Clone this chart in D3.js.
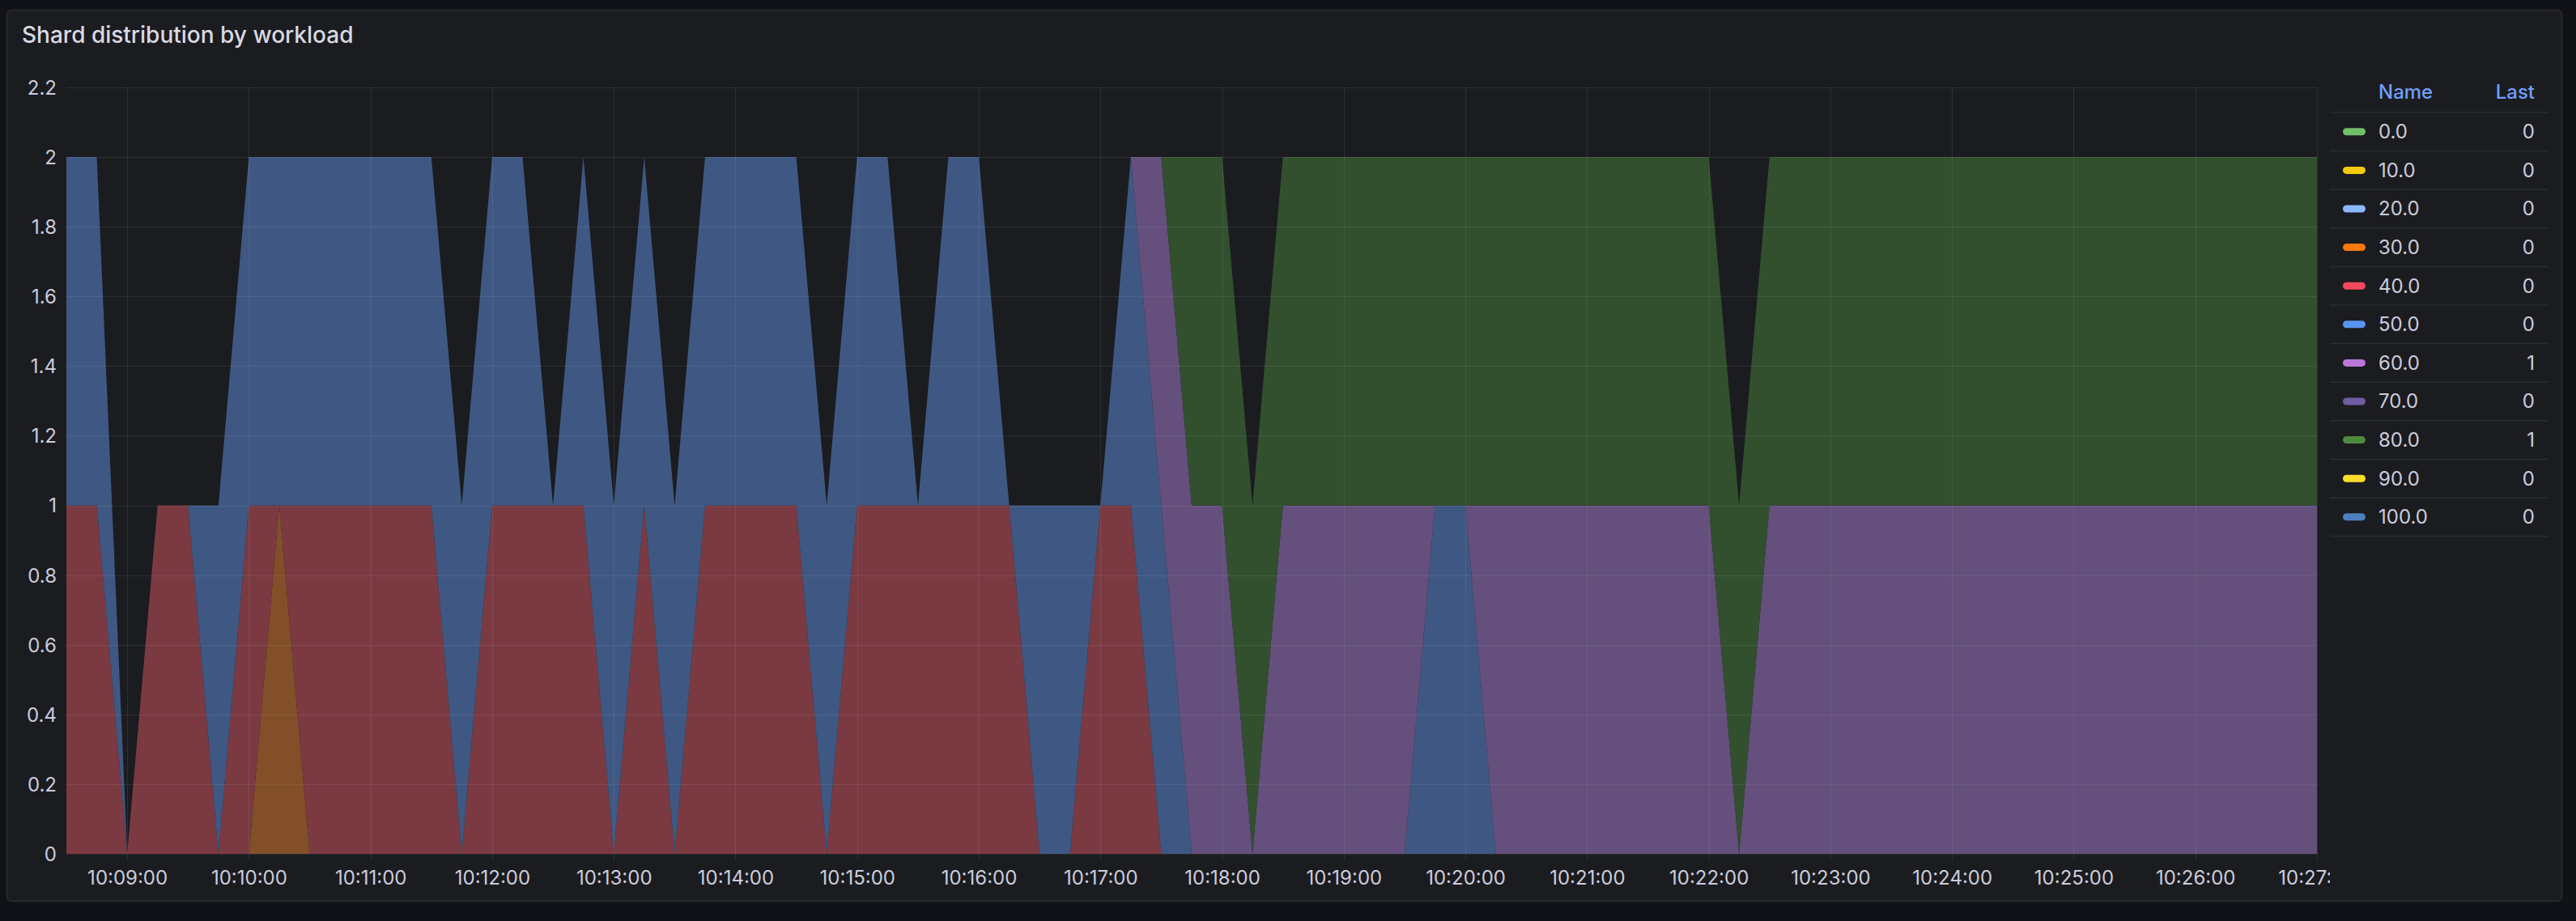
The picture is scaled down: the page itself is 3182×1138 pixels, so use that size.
<!DOCTYPE html>
<html>
<head>
<meta charset="utf-8">
<script src="https://cdn.jsdelivr.net/npm/d3@7"></script>
<style>
  html, body { margin: 0; padding: 0; background: #111217; }
  svg { display: block; font-family: Inter, "Noto Sans", sans-serif; }
</style>
</head>
<body>
<svg id="chart" width="3182" height="1138"></svg>
<script>
// ---------- DATA ----------
const times = [
  "10:08:30","10:08:45","10:09:00","10:09:15","10:09:30","10:09:45",
  "10:10:00","10:10:15","10:10:30","10:10:45","10:11:00","10:11:15",
  "10:11:30","10:11:45","10:12:00","10:12:15","10:12:30","10:12:45",
  "10:13:00","10:13:15","10:13:30","10:13:45","10:14:00","10:14:15",
  "10:14:30","10:14:45","10:15:00","10:15:15","10:15:30","10:15:45",
  "10:16:00","10:16:15","10:16:30","10:16:45","10:17:00","10:17:15",
  "10:17:30","10:17:45","10:18:00","10:18:15","10:18:30","10:18:45",
  "10:19:00","10:19:15","10:19:30","10:19:45","10:20:00","10:20:15",
  "10:20:30","10:20:45","10:21:00","10:21:15","10:21:30","10:21:45",
  "10:22:00","10:22:15","10:22:30","10:22:45","10:23:00","10:23:15",
  "10:23:30","10:23:45","10:24:00","10:24:15","10:24:30","10:24:45",
  "10:25:00","10:25:15","10:25:30","10:25:45","10:26:00","10:26:15",
  "10:26:30","10:26:45","10:27:00"
];

const seriesNames = ["0.0","10.0","20.0","30.0","40.0","50.0","60.0","70.0","80.0","90.0","100.0"];

const s0   = [0,0,0,0,0,0,0,0,0,0,0,0,0,0,0,0,0,0,0,0,0,0,0,0,0,0,0,0,0,0,0,0,0,0,0,0,0,0,0,0,0,0,0,0,0,0,0,0,0,0,0,0,0,0,0,0,0,0,0,0,0,0,0,0,0,0,0,0,0,0,0,0,0,0,0];
const s10  = [0,0,0,0,0,0,0,0,0,0,0,0,0,0,0,0,0,0,0,0,0,0,0,0,0,0,0,0,0,0,0,0,0,0,0,0,0,0,0,0,0,0,0,0,0,0,0,0,0,0,0,0,0,0,0,0,0,0,0,0,0,0,0,0,0,0,0,0,0,0,0,0,0,0,0];
const s20  = [0,0,0,0,0,0,0,0,0,0,0,0,0,0,0,0,0,0,0,0,0,0,0,0,0,0,0,0,0,0,0,0,0,0,0,0,0,0,0,0,0,0,0,0,0,0,0,0,0,0,0,0,0,0,0,0,0,0,0,0,0,0,0,0,0,0,0,0,0,0,0,0,0,0,0];
const s30  = [0,0,0,0,0,0,0,1,0,0,0,0,0,0,0,0,0,0,0,0,0,0,0,0,0,0,0,0,0,0,0,0,0,0,0,0,0,0,0,0,0,0,0,0,0,0,0,0,0,0,0,0,0,0,0,0,0,0,0,0,0,0,0,0,0,0,0,0,0,0,0,0,0,0,0];
const s40  = [1,1,0,1,1,0,1,0,1,1,1,1,1,0,1,1,1,1,0,1,0,1,1,1,1,0,1,1,1,1,1,1,0,0,1,1,0,0,0,0,0,0,0,0,0,0,0,0,0,0,0,0,0,0,0,0,0,0,0,0,0,0,0,0,0,0,0,0,0,0,0,0,0,0,0];
const s50  = [1,1,0,0,0,1,1,1,1,1,1,1,1,1,1,1,0,1,1,1,1,1,1,1,1,1,1,1,0,1,1,0,1,1,0,1,1,0,0,0,0,0,0,0,0,1,1,0,0,0,0,0,0,0,0,0,0,0,0,0,0,0,0,0,0,0,0,0,0,0,0,0,0,0,0];
const s60  = [0,0,0,0,0,0,0,0,0,0,0,0,0,0,0,0,0,0,0,0,0,0,0,0,0,0,0,0,0,0,0,0,0,0,0,0,1,1,1,0,1,1,1,1,1,0,0,1,1,1,1,1,1,1,1,0,1,1,1,1,1,1,1,1,1,1,1,1,1,1,1,1,1,1,1];
const s70  = [0,0,0,0,0,0,0,0,0,0,0,0,0,0,0,0,0,0,0,0,0,0,0,0,0,0,0,0,0,0,0,0,0,0,0,0,0,0,0,0,0,0,0,0,0,0,0,0,0,0,0,0,0,0,0,0,0,0,0,0,0,0,0,0,0,0,0,0,0,0,0,0,0,0,0];
const s80  = [0,0,0,0,0,0,0,0,0,0,0,0,0,0,0,0,0,0,0,0,0,0,0,0,0,0,0,0,0,0,0,0,0,0,0,0,0,1,1,1,1,1,1,1,1,1,1,1,1,1,1,1,1,1,1,1,1,1,1,1,1,1,1,1,1,1,1,1,1,1,1,1,1,1,1];
const s90  = [0,0,0,0,0,0,0,0,0,0,0,0,0,0,0,0,0,0,0,0,0,0,0,0,0,0,0,0,0,0,0,0,0,0,0,0,0,0,0,0,0,0,0,0,0,0,0,0,0,0,0,0,0,0,0,0,0,0,0,0,0,0,0,0,0,0,0,0,0,0,0,0,0,0,0];
const s100 = [0,0,0,0,0,0,0,0,0,0,0,0,0,0,0,0,0,0,0,0,0,0,0,0,0,0,0,0,0,0,0,0,0,0,0,0,0,0,0,0,0,0,0,0,0,0,0,0,0,0,0,0,0,0,0,0,0,0,0,0,0,0,0,0,0,0,0,0,0,0,0,0,0,0,0];

const xTickLabels = ["10:09:00","10:10:00","10:11:00","10:12:00","10:13:00","10:14:00","10:15:00",
  "10:16:00","10:17:00","10:18:00","10:19:00","10:20:00","10:21:00","10:22:00","10:23:00",
  "10:24:00","10:25:00","10:26:00","10:27:00"];
const yTickValues = [0,0.2,0.4,0.6,0.8,1,1.2,1.4,1.6,1.8,2,2.2];

// ---------- STYLE ----------
const lineColors = ["#73BF69","#F2CC0C","#8AB8FF","#FF780A","#F2495C","#5794F2","#B877D9","#705DA0","#4C8C3D","#FADE2A","#4C7FBD"];
const fillColors = ["#3c5a37","#6e6226","#4b5f80","#834F29","#7B3A42","#3F5883","#654F7D","#4a416a","#32502E","#6f6a2e","#3a5272"];

const W = 3182, H = 1138;
const plot = { left: 82, right: 2862, top: 108, bottom: 1055 };

const svg = d3.select("#chart");

// backgrounds
svg.append("rect").attr("width", W).attr("height", H).attr("fill", "#111217");
svg.append("rect").attr("x", 8.5).attr("y", 12.5).attr("width", 3156).attr("height", 1101)
  .attr("rx", 6).attr("fill", "#1b1c20").attr("stroke", "#2b2c31").attr("stroke-width", 1.5);

// title
svg.append("text").attr("x", 27).attr("y", 53)
  .attr("font-size", 28).attr("font-weight", 500).attr("fill", "#d8d9e3")
  .text("Shard distribution by workload");

// data prep
const parse = d3.timeParse("%Y-%m-%d %H:%M:%S");
const day = "2024-01-01 ";
const seriesArrays = [s0, s10, s20, s30, s40, s50, s60, s70, s80, s90, s100];
const rows = times.map((t, i) => {
  const r = { t: parse(day + t) };
  seriesNames.forEach((n, k) => r[n] = seriesArrays[k][i]);
  return r;
});

const x = d3.scaleTime()
  .domain([parse(day + times[0]), parse(day + times[times.length - 1])])
  .range([plot.left, plot.right]);
const y = d3.scaleLinear().domain([0, 2.2]).range([plot.bottom, plot.top]);

const stack = d3.stack().keys(seriesNames);
const layers = stack(rows);

const area = d3.area()
  .x(d => x(d.data.t))
  .y0(d => y(d[0]))
  .y1(d => y(d[1]))
  .curve(d3.curveLinear);

svg.append("defs").append("clipPath").attr("id", "plotclip")
  .append("rect").attr("x", plot.left).attr("y", plot.top)
  .attr("width", plot.right - plot.left).attr("height", plot.bottom - plot.top);
svg.select("defs").append("clipPath").attr("id", "xlabclip")
  .append("rect").attr("x", 0).attr("y", 1060).attr("width", 2878).attr("height", 60);

const gAreas = svg.append("g").attr("clip-path", "url(#plotclip)");
gAreas.selectAll("path").data(layers).join("path")
  .attr("d", area)
  .attr("fill", (d, i) => fillColors[i])
  .attr("stroke", "none");

// grid (drawn over fills, translucent)
const xTicks = xTickLabels.map(s => parse(day + s));
const gGrid = svg.append("g");
gGrid.selectAll("line.h").data(yTickValues).join("line")
  .attr("x1", plot.left).attr("x2", plot.right)
  .attr("y1", d => Math.round(y(d)) + 0.5).attr("y2", d => Math.round(y(d)) + 0.5)
  .attr("stroke", "rgba(204,204,220,0.10)").attr("stroke-width", 1);
gGrid.selectAll("line.v").data(xTicks).join("line")
  .attr("x1", d => Math.round(x(d)) + 0.5).attr("x2", d => Math.round(x(d)) + 0.5)
  .attr("y1", plot.top).attr("y2", plot.bottom + 9)
  .attr("stroke", "rgba(204,204,220,0.10)").attr("stroke-width", 1);

// y axis
const yAxis = d3.axisLeft(y).tickValues(yTickValues).tickSize(0).tickPadding(0)
  .tickFormat(d3.format("~g"));
const gy = svg.append("g").attr("transform", `translate(${70},0)`).call(yAxis);
gy.select(".domain").remove();
gy.selectAll("text").attr("font-size", 24).attr("fill", "#ccccdc")
  .attr("font-family", "Inter, sans-serif").attr("dy", "0.35em").attr("x", 0);

// x axis
const xAxis = d3.axisBottom(x).tickValues(xTicks).tickSize(0).tickPadding(0)
  .tickFormat(d3.timeFormat("%H:%M:%S"));
const gx = svg.append("g").attr("transform", `translate(0,${1093})`)
  .attr("clip-path", "url(#xlabclip)").call(xAxis);
gx.select(".domain").remove();
gx.selectAll("text").attr("font-size", 24).attr("fill", "#ccccdc")
  .attr("font-family", "Inter, sans-serif").attr("dy", 0).attr("y", 0);
gx.attr("clip-path", null);
gx.selectAll("g.tick").attr("clip-path", null);
// apply clip in absolute coords
const gxWrap = svg.append("g").attr("clip-path", "url(#xlabclip)");
gxWrap.node().appendChild(gx.node());

// legend
const legX0 = 2878, legX1 = 3148, rowTop = 139, rowH = 47.6;
const gl = svg.append("g").attr("font-family", "Inter, sans-serif").attr("font-size", 24);
gl.append("text").attr("x", 2938).attr("y", 114).attr("dy", "0.35em")
  .attr("fill", "#6E9FFF").attr("font-weight", 500).text("Name");
gl.append("text").attr("x", 3131).attr("y", 114).attr("dy", "0.35em")
  .attr("text-anchor", "end").attr("fill", "#6E9FFF").attr("font-weight", 500).text("Last");
gl.selectAll("line.sep").data(d3.range(seriesNames.length + 1)).join("line")
  .attr("x1", legX0).attr("x2", legX1)
  .attr("y1", k => rowTop + k * rowH).attr("y2", k => rowTop + k * rowH)
  .attr("stroke", "#2c2d33").attr("stroke-width", 1.5);
const lastVals = seriesArrays.map(a => a[a.length - 1]);
const rowsG = gl.selectAll("g.row").data(seriesNames).join("g")
  .attr("transform", (d, k) => `translate(0,${rowTop + k * rowH + rowH / 2})`);
rowsG.append("rect").attr("x", 2894).attr("y", -4.5).attr("width", 28).attr("height", 9)
  .attr("rx", 4.5).attr("fill", (d, k) => lineColors[k]);
rowsG.append("text").attr("x", 2938).attr("dy", "0.35em").attr("fill", "#ccccdc").text(d => d);
rowsG.append("text").attr("x", 3131).attr("dy", "0.35em").attr("text-anchor", "end")
  .attr("fill", "#ccccdc").text((d, k) => lastVals[k]);
</script>
</body>
</html>
